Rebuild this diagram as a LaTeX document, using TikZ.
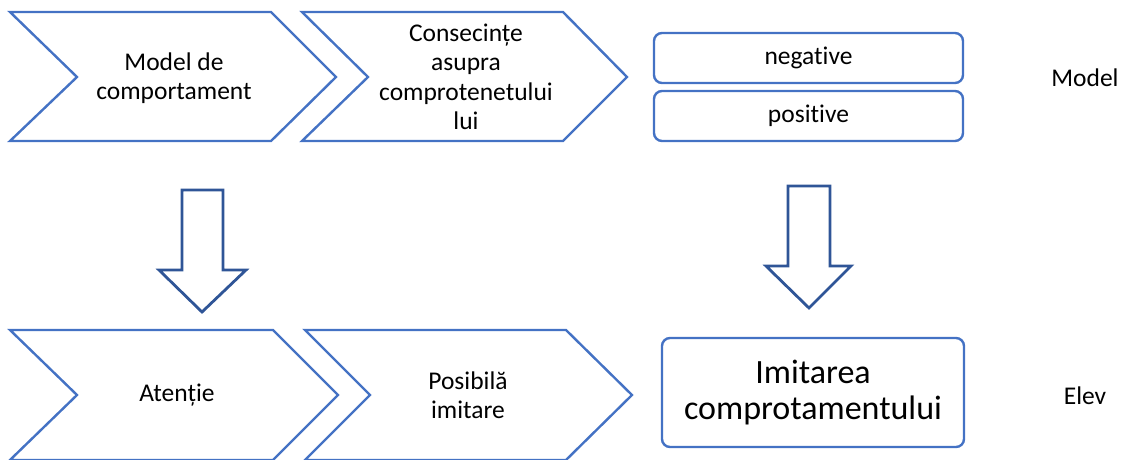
\documentclass[tikz,border=0pt]{standalone}
\usepackage{fontspec}
\setmainfont{Carlito}[RawFeature={-liga;-calt;-dlig}]
\definecolor{chevblue}{HTML}{4472C4}
\definecolor{arrblue}{HTML}{2F5597}
\tikzset{
  chev/.style={draw=chevblue, line width=2.4pt, line join=miter, fill=white},
  blockarrow/.style={draw=arrblue, line width=2.8pt, line join=miter, fill=white},
  roundbox/.style={draw=chevblue, line width=2.4pt, rounded corners=8pt, fill=white, align=center, inner sep=0pt},
  txt/.style={align=center, font=\fontsize{25.5}{29.5}\selectfont},
  bigtxt/.style={align=center, font=\fontsize{34}{36}\selectfont}
}
\begin{document}
\begin{tikzpicture}[x=1pt,y=-1pt]
\useasboundingbox (0,0) rectangle (1125,459);
% chevrons, top row (model)
\draw[chev] (10,12) -- (271,12) -- (336,77) -- (271,141) -- (10,141) -- (77,77) -- cycle;
\draw[chev] (302,12) -- (563,12) -- (627,77) -- (563,141) -- (302,141) -- (368,77) -- cycle;
\node[txt] (model) at (174,78) {Model de\\comportament};
\node[txt] (cons) at (466,77) {Consecințe\\asupra\\comprotenetului\\lui};
\node[roundbox, txt, minimum width=309, minimum height=50] (neg) at (808.5,58) {negative};
\node[roundbox, txt, minimum width=309, minimum height=50] (pos) at (808.5,116) {positive};
% chevrons, bottom row (elev)
\draw[chev] (10,330) -- (273,330) -- (338,395) -- (273,460) -- (10,460) -- (77,395) -- cycle;
\draw[chev] (305,330) -- (566,330) -- (632,395) -- (566,460) -- (305,460) -- (370,395) -- cycle;
\node[txt] (aten) at (177,395) {Atenție};
\node[txt] (posib) at (468,395) {Posibilă\\imitare};
\node[roundbox, bigtxt, minimum width=302, minimum height=109] (imit) at (813,392.5) {Imitarea\\comprotamentului};
% block arrows
\draw[blockarrow] (182,190) -- (223,190) -- (223,270) -- (246,270) -- (202,312) -- (159,270) -- (182,270) -- cycle;
\draw[blockarrow] (788,186) -- (830,186) -- (830,266) -- (851,266) -- (809,308) -- (766,266) -- (788,266) -- cycle;
% side labels
\node[txt] (lmodel) at (1085,78) {Model};
\node[txt] (lelev) at (1085,396) {Elev};
\end{tikzpicture}
\end{document}
